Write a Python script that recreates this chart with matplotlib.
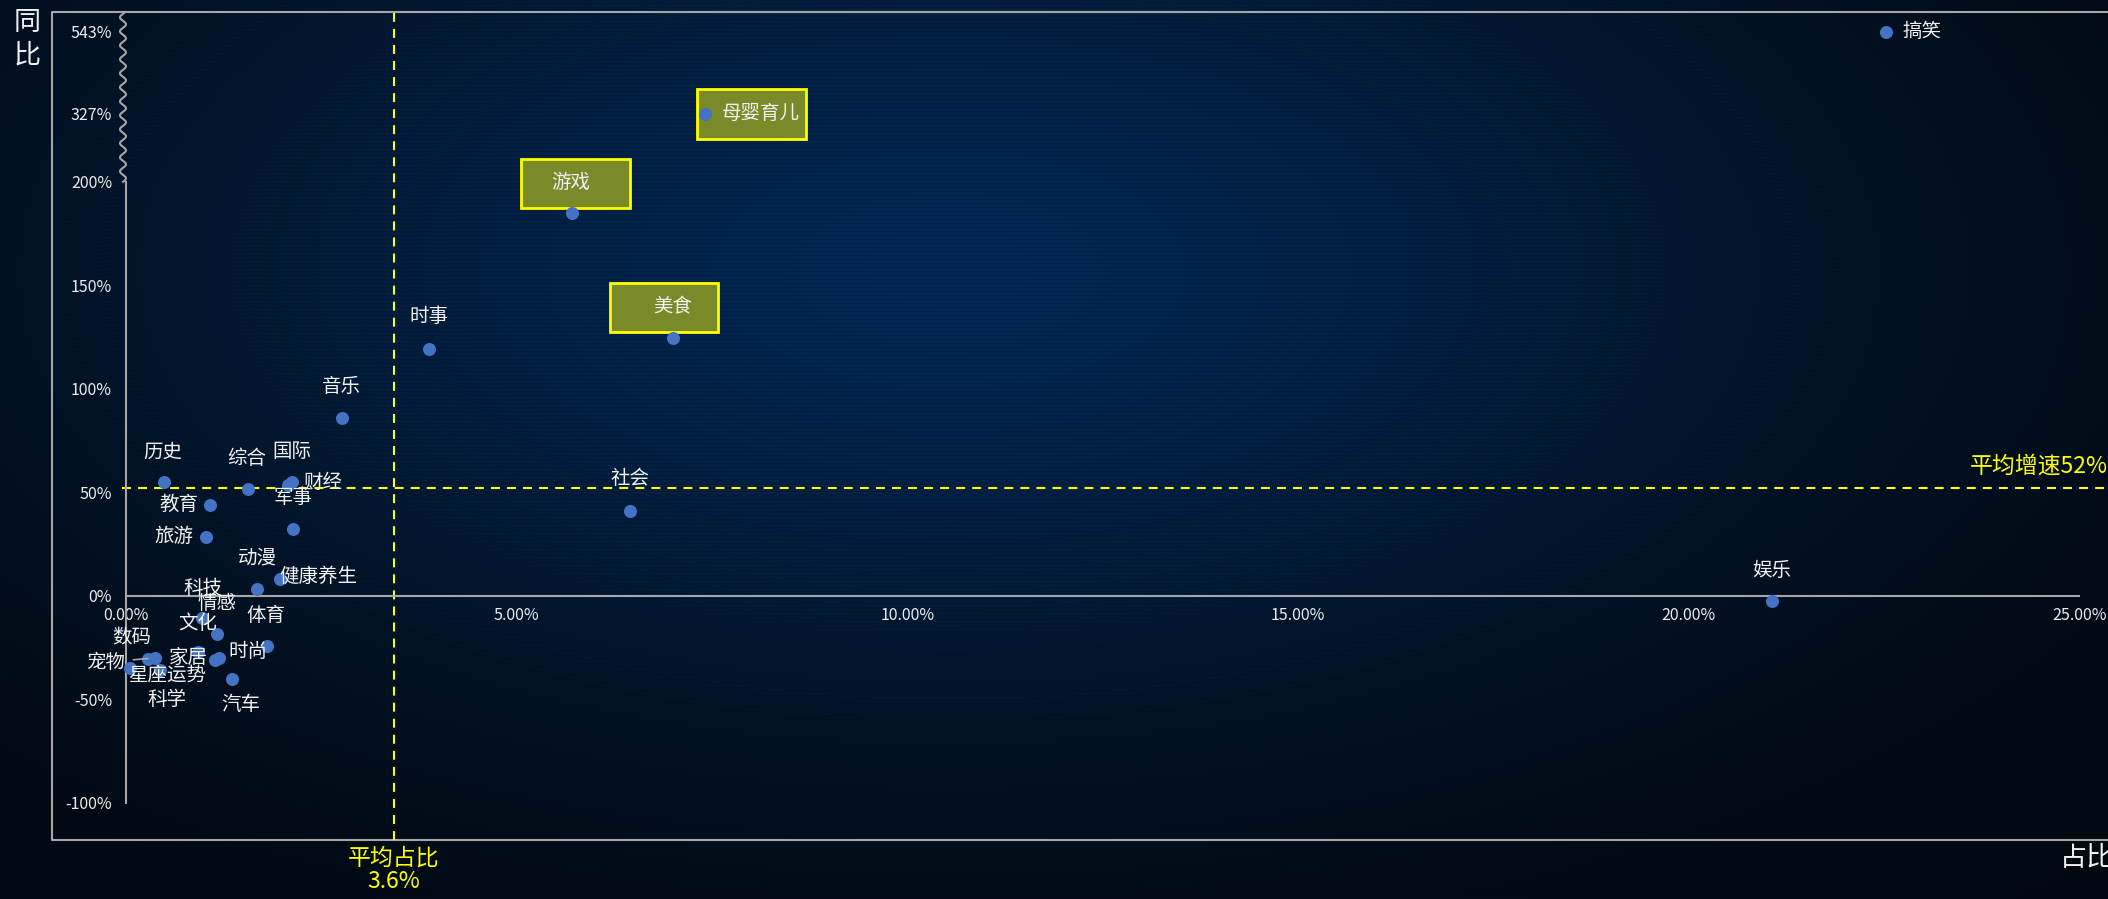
import numpy as np
import matplotlib
matplotlib.use('Agg')
import matplotlib.pyplot as plt
from matplotlib.patches import Rectangle
from matplotlib.transforms import ScaledTranslation, blended_transform_factory

plt.rcParams['font.family'] = ['Noto Sans CJK SC', 'DejaVu Sans']

# share of total (%) and year-on-year growth (%) per category
names = ['搞笑', '母婴育儿', '游戏', '美食', '时事', '社会', '娱乐', '音乐',
         '历史', '综合', '国际', '财经', '军事', '教育', '旅游', '动漫',
         '健康养生', '科技', '情感', '文化', '体育', '时尚', '家居', '汽车',
         '数码', '宠物', '星座运势', '科学']
share = [22.53, 7.41, 5.71, 7.00, 3.88, 6.45, 21.07, 2.76,
         0.49, 1.56, 2.12, 2.08, 2.14, 1.08, 1.02, 1.68,
         1.97, 0.97, 1.16, 0.92, 1.80, 1.19, 1.14, 1.36,
         0.28, 0.37, 0.05, 0.44]
growth = [543, 327, 185.0, 124.6, 119.3, 41.1, -2.4, 86.0,
          55.1, 51.7, 55.1, 53.6, 32.4, 44.0, 28.5, 3.4,
          8.2, -10.6, -18.4, -27.1, -24.2, -30.0, -30.9, -40.1,
          -30.4, -30.0, -34.8, -35.7]
highlight = ['母婴育儿', '游戏', '美食']

avg_share = 3.43
avg_share_text = '3.6%'
avg_growth = 52

x_ticks = [0, 5, 10, 15, 20, 25]
x_tick_labels = ['0.00%', '5.00%', '10.00%', '15.00%', '20.00%', '25.00%']
y_ticks = [-100, -50, 0, 50, 100, 150, 200, 327, 543]
y_tick_labels = ['-100%', '-50%', '0%', '50%', '100%', '150%', '200%', '327%', '543%']

# label placement: pixel offset from the dot (dx right, dy down), alignment
label_pos = {
    '搞笑': (16, 0, 'left'), '母婴育儿': (17, 0, 'left'),
    '游戏': (-1, -30, 'center'), '美食': (0, -31, 'center'),
    '时事': (0, -32, 'center'), '社会': (0, -32, 'center'),
    '娱乐': (0, -30, 'center'), '音乐': (0, -31, 'center'),
    '历史': (-1, -30, 'center'), '综合': (-1, -30, 'center'),
    '国际': (0, -30, 'center'), '财经': (15, -2, 'left'),
    '军事': (0, -31, 'center'), '教育': (-12, 0, 'right'),
    '旅游': (-12, 0, 'right'), '动漫': (0, -31, 'center'),
    '健康养生': (-1, -3, 'left'), '科技': (1, -29, 'center'),
    '情感': (0, -31, 'center'), '文化': (0, -29, 'center'),
    '体育': (-1, -31, 'center'), '时尚': (9, -7, 'left'),
    '家居': (-7, -2, 'right'), '汽车': (9, 26, 'center'),
    '数码': (-16, -21, 'center'), '宠物': (-30, 4, 'right'),
    '星座运势': (-2, 7, 'left'), '科学': (7, 30, 'center'),
}
# highlight boxes: left, top, width, height in pixels relative to the dot
box_pos = {'母婴育儿': (-8, -25, 109, 50),
           '游戏': (-51, -54, 109, 49),
           '美食': (-63, -55, 108, 49)}

fig = plt.figure(figsize=(21.08, 8.99), dpi=100)

# dark navy background with faint scanlines
H, W = 899, 2108
yy, xx = np.mgrid[0:H, 0:W]
u, v = xx / W, yy / H
wgt = np.exp(-((u - 0.45) / 0.42) ** 2 - ((v - 0.3) / 0.5) ** 2)
stripes = 1 + 0.1 * np.sin(2 * np.pi * yy / 4.0)
dark = np.array([1, 8, 15]) / 255
blue = np.array([2, 38, 80]) / 255
img = np.clip(dark + (blue - dark) * (wgt * stripes)[..., None], 0, 1)
bg = fig.add_axes([0, 0, 1, 1])
bg.imshow(img, aspect='auto', extent=[0, 1, 0, 1], interpolation='nearest')
bg.axis('off')
bg.set_zorder(0)

ax = fig.add_axes([52 / 2108, 59 / 899, 2056 / 2108, 828 / 899])
ax.set_zorder(1)
ax.set_facecolor('none')

# broken y axis above 200%
y_knots = [-1000, 200, 327, 543, 2000]
y_place = [-1000, 200, 232.9, 272.5, 539.6]
fwd = lambda y: np.interp(y, y_knots, y_place)
inv = lambda t: np.interp(t, y_place, y_knots)
ax.set_yscale('function', functions=(fwd, inv))
ax.set_xlim(-0.947, 25.37)
ax.set_ylim(-117.9, 595)

grey = '#a6a6a6'
for s in ['top', 'right']:
    ax.spines[s].set_visible(False)
ax.spines['left'].set_position(('data', 0))
ax.spines['bottom'].set_position(('data', 0))
ax.spines['left'].set_bounds(-100, 200)
ax.spines['bottom'].set_bounds(0, 25)
for s in ['left', 'bottom']:
    ax.spines[s].set_color(grey)
    ax.spines[s].set_linewidth(1.5)

# outer frame
ax.plot([1.01, 0, 0, 1.01], [1, 1, 0, 0], transform=ax.transAxes,
        color=grey, lw=1.5, clip_on=False)

# squiggle for the axis break
f0 = (fwd(200) - fwd(-117.9)) / (fwd(595) - fwd(-117.9))
ys = np.linspace(f0, 1, 600)
xs = (-3 + 3 * np.sin(2 * np.pi * (ys - f0) * 828 / 14)) / 100
sq_tr = blended_transform_factory(
    fig.dpi_scale_trans + ScaledTranslation(0, 0, ax.transData), ax.transAxes)
ax.plot(xs, ys, transform=sq_tr, color=grey, lw=1.5, clip_on=False)

ax.set_xticks(x_ticks, x_tick_labels)
ax.set_yticks(y_ticks, y_tick_labels)
ax.minorticks_off()
ax.tick_params(axis='both', length=0, colors='#ececec', labelsize=11.5)
ax.tick_params(axis='y', pad=10)
ax.tick_params(axis='x', pad=8)

# average lines
yellow = '#ffff00'
ax.axvline(avg_share, color=yellow, lw=1.5, dashes=(4.3, 3.4))
ax.plot([-0.05, 25.37], [avg_growth, avg_growth], color=yellow, lw=1.5,
        dashes=(4.3, 3.4))
ax.annotate('平均增速' + str(avg_growth) + '%', (23.6, avg_growth),
            xytext=(0, 22 * 0.72), textcoords='offset points',
            ha='left', va='center', color=yellow, fontsize=16.5,
            annotation_clip=False)
ax.annotate('平均占比\n' + avg_share_text, (avg_share, 0),
            xycoords=('data', 'axes fraction'), xytext=(0, -5),
            textcoords='offset points', ha='center', va='top',
            color=yellow, fontsize=16.5, linespacing=1.0,
            annotation_clip=False)

# points
ax.scatter(share, growth, s=88, color='#4472C4', zorder=4, linewidths=0)

for name, x, y in zip(names, share, growth):
    dx, dy, ha = label_pos[name]
    if name in box_pos:
        l, t, w, h = box_pos[name]
        tr = fig.dpi_scale_trans + ScaledTranslation(x, y, ax.transData)
        ax.add_patch(Rectangle((l / 100, -(t + h) / 100), w / 100, h / 100,
                               transform=tr, facecolor='#7a8a28',
                               edgecolor=yellow, lw=2, zorder=3))
    arrow = None
    if name == '宠物':
        arrow = dict(arrowstyle='-', color=grey, lw=1.2, shrinkA=4, shrinkB=5)
    ax.annotate(name, (x, y), xytext=(dx * 0.72, -dy * 0.72),
                textcoords='offset points', ha=ha, va='center',
                color='#f2f2f2', fontsize=14, zorder=5,
                arrowprops=arrow)

# axis titles
fig.text(27 / 2108, 1 - 9 / 899, '同\n比', ha='center', va='top',
         color='#f2f2f2', fontsize=19.5, linespacing=1.3)
fig.text(2060 / 2108, 1 - 858 / 899, '占比', ha='left', va='center',
         color='#f2f2f2', fontsize=19.5)

fig.savefig('out.png', dpi=100)
